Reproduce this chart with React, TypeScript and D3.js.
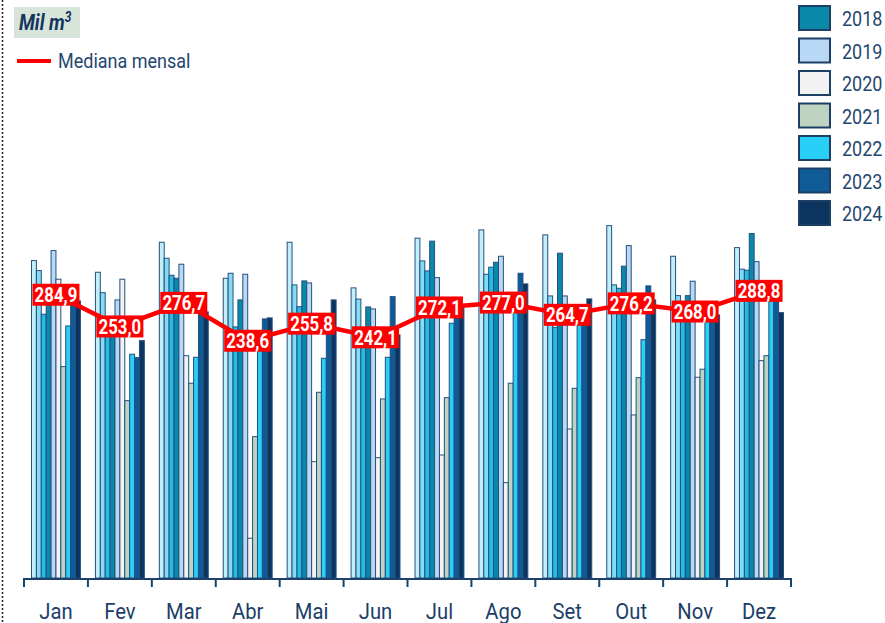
import React from 'react';
import * as d3 from 'd3';

const months = ['Jan', 'Fev', 'Mar', 'Abr', 'Mai', 'Jun', 'Jul', 'Ago', 'Set', 'Out', 'Nov', 'Dez'];
const years = ['2015', '2016', '2017', '2018', '2019', '2020', '2021', '2022', '2023', '2024'];
const legendYears = ['2018', '2019', '2020', '2021', '2022', '2023', '2024'];

const v2015 = [319.2, 307.5, 337.7, 301.5, 337.7, 291.8, 341.8, 350.1, 345.1, 354.4, 323.6, 332.3];
const v2016 = [309.2, 287.0, 321.6, 306.5, 294.8, 280.5, 318.9, 305.5, 283.7, 294.8, 284.0, 310.6];
const v2017 = [265.3, 254.5, 304.5, 252.5, 272.9, 249.5, 308.9, 312.6, 252.2, 291.4, 277.7, 309.6];
const v2018 = [281.7, 257.5, 301.5, 279.7, 298.8, 272.6, 338.8, 317.6, 326.7, 313.6, 284.0, 346.4];
const v2019 = [329.3, 279.7, 315.6, 305.5, 296.8, 270.6, 302.1, 323.6, 283.7, 334.3, 298.5, 318.2];
const v2020 = [300.5, 300.5, 223.6, 40.0, 117.0, 121.0, 123.7, 95.9, 149.9, 164.0, 201.9, 218.6];
const v2021 = [212.6, 178.4, 195.9, 142.2, 186.8, 180.1, 181.4, 195.9, 190.8, 201.5, 210.0, 223.6];
const v2022 = [253.5, 225.1, 222.0, 239.4, 221.0, 222.0, 256.2, 279.7, 269.6, 239.7, 269.6, 284.7];
const v2023 = [276.7, 221.6, 269.6, 260.6, 246.5, 283.0, 267.6, 306.5, 274.6, 293.8, 267.6, 289.7];
const v2024 = [278.7, 238.7, 267.6, 261.6, 279.7, 244.5, 271.6, 295.8, 280.7, 279.7, 264.6, 266.9];

const medianValues = [284.9, 253.0, 276.7, 238.6, 255.8, 242.1, 272.1, 277.0, 264.7, 276.2, 268.0, 288.8];

const series = [v2015, v2016, v2017, v2018, v2019, v2020, v2021, v2022, v2023, v2024];

const colors: Record<string, string> = {
  '2015': '#c2eefb',
  '2016': '#84dbf4',
  '2017': '#22bce6',
  '2018': '#0b88a8',
  '2019': '#b8d8f6',
  '2020': '#f2f2f2',
  '2021': '#bfd3c3',
  '2022': '#28cff7',
  '2023': '#0f5b97',
  '2024': '#0b345f',
};

const W = 885;
const H = 623;
const navy = '#1b416c';
const fontStack = 'Roboto, "Noto Sans", sans-serif';

// squeezed text, the original font is a condensed one
const CText = ({ x, y, sx = 0.88, anchor = 'start', children, ...rest }: any) => (
  <g transform={`translate(${x},${y}) scale(${sx},1)`}>
    <text x={0} y={0} textAnchor={anchor} fontFamily={fontStack} {...rest}>
      {children}
    </text>
  </g>
);

export default function App() {
  const x0 = d3.scaleBand<string>().domain(months).range([24, 791]);
  const bw = x0.bandwidth();
  const x1 = d3.scaleBand<string>().domain(years).range([7.5, bw - 7.5]);
  const y = d3.scaleLinear().domain([0, 350]).range([578, 230]);

  const line = d3
    .line<number>()
    .x((_, i) => (x0(months[i]) as number) + bw / 2)
    .y((d) => y(d));

  const ticks = d3.range(months.length + 1).map((i) => 24 + i * bw);

  return (
    <div style={{ position: 'absolute', left: 0, top: 0 }}>
      <svg width={W} height={H} style={{ display: 'block', background: '#fff' }}>
        <line x1={2.5} y1={0} x2={2.5} y2={H} stroke="#222" strokeWidth={1.5} strokeDasharray="2,2" />

        {/* title */}
        <rect x={14} y={7} width={66} height={31} fill="#d6e4d9" />
        <CText x={19} y={30} sx={0.85} fontSize={22} fontWeight={700} fontStyle="italic" fill="#15355e">
          Mil m<tspan dy={-8} fontSize={14}>3</tspan>
        </CText>

        {/* median legend */}
        <line x1={17} y1={61} x2={51} y2={61} stroke="#ff0000" strokeWidth={4} />
        <CText x={58} y={67.5} sx={0.9} fontSize={20} fill="#24476f">Mediana mensal</CText>

        {/* bars */}
        {months.map((m, mi) => (
          <g key={m} transform={`translate(${x0(m)},0)`}>
            {years.map((yr, si) => {
              const v = series[si][mi];
              return (
                <rect
                  key={yr}
                  x={x1(yr)}
                  y={y(v)}
                  width={x1.bandwidth()}
                  height={y(0) - y(v)}
                  fill={colors[yr]}
                  stroke="#24507e"
                  strokeWidth={1}
                />
              );
            })}
          </g>
        ))}

        {/* axis */}
        <line x1={24} y1={579} x2={791} y2={579} stroke={navy} strokeWidth={2} />
        {ticks.map((t, i) => (
          <line key={i} x1={t} y1={578} x2={t} y2={587} stroke={navy} strokeWidth={2} />
        ))}
        {months.map((m) => (
          <CText
            key={m}
            x={(x0(m) as number) + bw / 2}
            y={619}
            sx={0.92}
            anchor="middle"
            fontSize={22}
            fill="#1a3e68"
          >
            {m}
          </CText>
        ))}

        {/* median line */}
        <path d={line(medianValues) || ''} fill="none" stroke="#ff0000" strokeWidth={4.5} strokeLinejoin="round" />
        {medianValues.map((v, i) => {
          const cx = (x0(months[i]) as number) + bw / 2;
          const cy = y(v);
          return (
            <g key={i}>
              <rect x={cx - 23.5} y={cy - 11} width={47} height={22} fill="#ff0000" />
              <CText x={cx} y={cy + 7.5} sx={0.82} anchor="middle" fontSize={20.5} fontWeight={700} fill="#ffffff">
                {d3.format('.1f')(v).replace('.', ',')}
              </CText>
            </g>
          );
        })}

        {/* legend */}
        {legendYears.map((yr, i) => (
          <g key={yr} transform={`translate(0,${5 + i * 32.5})`}>
            <rect x={799} y={1} width={31} height={24} fill={colors[yr]} stroke="#1c3f66" strokeWidth={2} />
            <CText x={842} y={21} sx={0.9} fontSize={20} fill="#24476f">{yr}</CText>
          </g>
        ))}
      </svg>
    </div>
  );
}
